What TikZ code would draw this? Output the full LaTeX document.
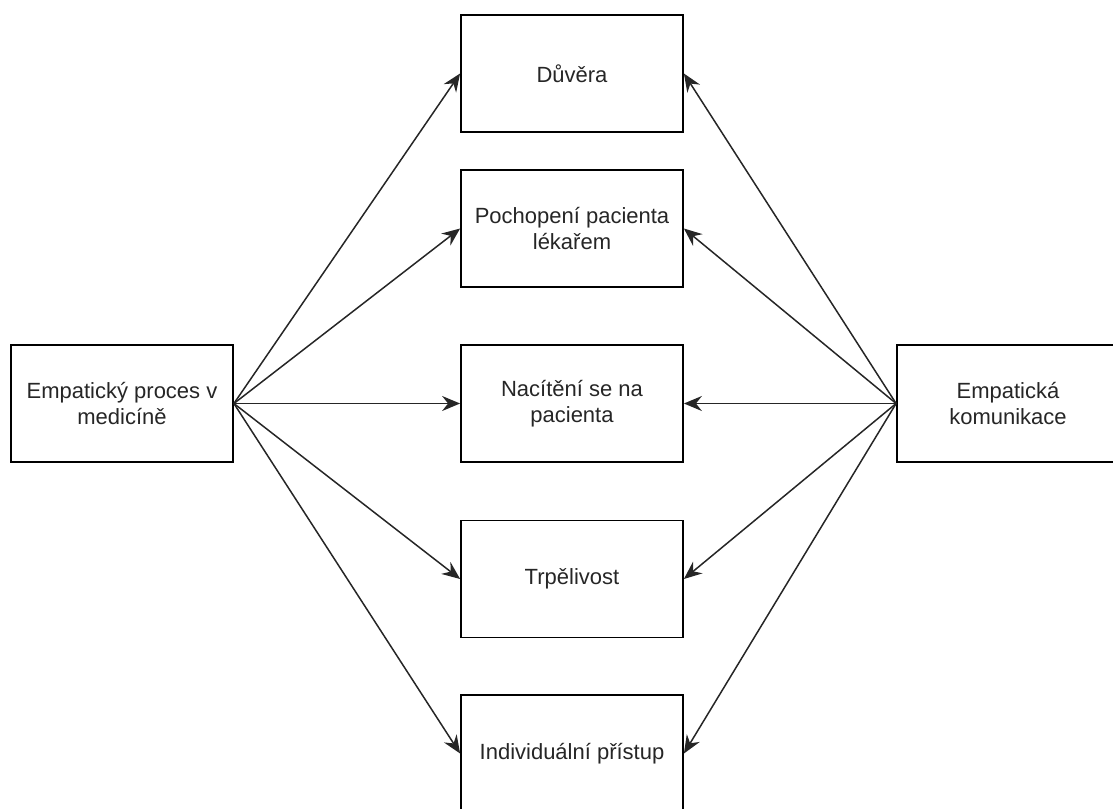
\documentclass[tikz,border=0pt]{standalone}
\usepackage{fontspec}
\setmainfont{Liberation Sans}
\usepackage{tikz}
\usetikzlibrary{arrows.meta,positioning}

\tikzset{
  krabice/.style={draw=black, line width=1.8pt, fill=white, minimum width=222pt,
    minimum height=117pt, align=center, inner sep=0pt,
    font=\fontsize{22}{25.5}\selectfont, text=black!85},
  sipka/.style={line width=1.5pt, draw=black!85,
    -{Stealth[length=18pt, width=15pt, inset=6pt]}}
}

\begin{document}
\begin{tikzpicture}[x=1pt, y=-1pt]
    \useasboundingbox (0,0) rectangle (1113,808);

    % Boxes
    \node[krabice] (proces) at (122, 403.5) {Empatický proces v\\medicíně};
    \node[krabice] (komunikace) at (1008, 403.5) {Empatická\\komunikace};

    \node[krabice] (duvera) at (572, 73.5) {Důvěra};
    \node[krabice] (pochopeni) at (572, 228.5) {Pochopení pacienta\\lékařem};
    \node[krabice] (naciteni) at (572, 403.5) {Nacítění se na\\pacienta};
    \node[krabice] (trpelivost) at (572, 579) {Trpělivost};
    \node[krabice] (pristup) at (572, 753.5) {Individuální přístup};

    % Arrows from the left
    \draw[sipka] (proces.east) -- (duvera.west);
    \draw[sipka] (proces.east) -- (pochopeni.west);
    \draw[sipka] (proces.east) -- (naciteni.west);
    \draw[sipka] (proces.east) -- (trpelivost.west);
    \draw[sipka] (proces.east) -- (pristup.west);

    % Arrows from the right
    \draw[sipka] (komunikace.west) -- (duvera.east);
    \draw[sipka] (komunikace.west) -- (pochopeni.east);
    \draw[sipka] (komunikace.west) -- (naciteni.east);
    \draw[sipka] (komunikace.west) -- (trpelivost.east);
    \draw[sipka] (komunikace.west) -- (pristup.east);
\end{tikzpicture}
\end{document}
